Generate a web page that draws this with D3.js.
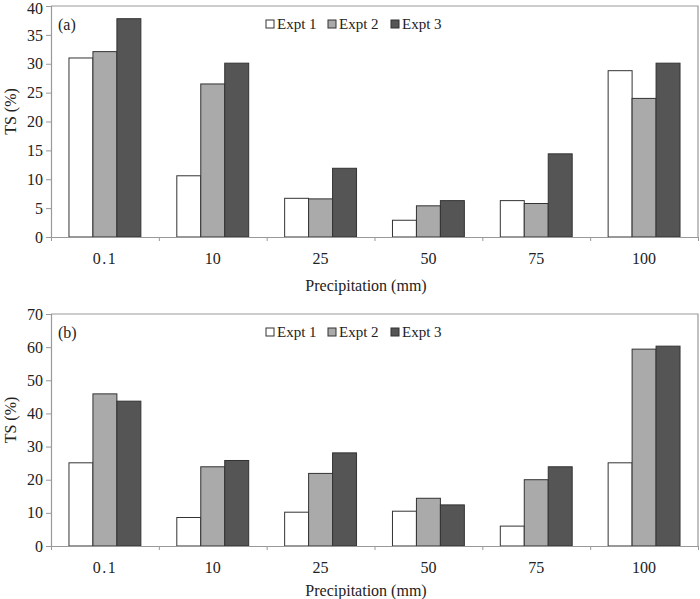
<!DOCTYPE html>
<html>
<head>
<meta charset="utf-8">
<script src="https://cdn.jsdelivr.net/npm/d3@7"></script>
<style>
  body { margin: 0; background: #fff; }
</style>
</head>
<body>
<div id="chart-container"></div>
<script>
// Data
const categories = ["0.1", "10", "25", "50", "75", "100"];
const seriesNames = ["Expt 1", "Expt 2", "Expt 3"];

// Panel (a)
const expt1A = [31.0, 10.6, 6.7, 2.9, 6.3, 28.8];
const expt2A = [32.1, 26.5, 6.6, 5.4, 5.8, 24.0];
const expt3A = [37.8, 30.1, 11.9, 6.3, 14.4, 30.1];
const yTicksA = [0, 5, 10, 15, 20, 25, 30, 35, 40];

// Panel (b)
const expt1B = [25.1, 8.6, 10.2, 10.5, 6.0, 25.1];
const expt2B = [45.9, 23.9, 21.9, 14.4, 20.0, 59.4];
const expt3B = [43.7, 25.8, 28.1, 12.4, 23.9, 60.3];
const yTicksB = [0, 10, 20, 30, 40, 50, 60, 70];

const fills = ["#ffffff", "#aaaaaa", "#555555"];
const FONT = "'Liberation Serif', 'Times New Roman', serif";

const svg = d3.select("#chart-container")
    .append("svg")
    .attr("width", 700)
    .attr("height", 599)
    .attr("font-family", FONT);

// Function to draw one panel
function drawPanel(label, seriesValues, yTicks, top, bottom, legendY, tickLabelY, titleY) {
    const left = 51, right = 698;

    const x0 = d3.scaleBand().domain(categories).range([left, right]).padding(0);
    const bw = x0.bandwidth();
    const x1 = d3.scaleBand().domain(seriesNames).range([bw / 6, bw * 5 / 6]).padding(0);
    const y = d3.scaleLinear().domain([0, d3.max(yTicks)]).range([bottom, top]);

    const g = svg.append("g");

    // plot frame (top and right)
    g.append("path")
        .attr("d", `M${left},${top}H${right}V${bottom}`)
        .attr("fill", "none")
        .attr("stroke", "#999")
        .attr("stroke-width", 1.2);

    // bars
    const rows = categories.map((c, i) => ({ cat: c, vals: seriesValues.map(s => s[i]) }));
    const groups = g.selectAll(".grp")
        .data(rows)
        .enter().append("g")
        .attr("transform", d => `translate(${x0(d.cat)},0)`);

    groups.selectAll("rect")
        .data(d => d.vals.map((v, j) => ({ name: seriesNames[j], v: v, j: j })))
        .enter().append("rect")
        .attr("x", d => x1(d.name))
        .attr("y", d => y(d.v))
        .attr("width", x1.bandwidth())
        .attr("height", d => y(0) - y(d.v))
        .attr("fill", d => fills[d.j])
        .attr("stroke", "#333")
        .attr("stroke-width", 1);

    // y axis
    const yAxis = g.append("g")
        .attr("transform", `translate(${left},0)`)
        .call(d3.axisLeft(y).tickValues(yTicks).tickSize(5).tickPadding(3).tickFormat(d3.format("d")));
    yAxis.select(".domain").attr("stroke", "#999").attr("stroke-width", 1.2);
    yAxis.selectAll(".tick line").attr("stroke", "#999");
    yAxis.selectAll(".tick text").attr("font-size", 16).attr("fill", "#222");
    // keep the top label inside the picture
    yAxis.selectAll(".tick text").filter(d => y(d) < 10).attr("dy", "0.45em");

    // x axis line with ticks at band edges
    const edges = categories.map(c => x0(c)).concat([right]);
    const xAxis = g.append("g")
        .attr("transform", `translate(0,${bottom})`)
        .call(d3.axisBottom(d3.scaleLinear().domain([left, right]).range([left, right]))
            .tickValues(edges).tickSize(4).tickSizeOuter(0).tickFormat(""));
    xAxis.select(".domain").attr("stroke", "#999").attr("stroke-width", 1.2);
    xAxis.selectAll(".tick line").attr("stroke", "#999");

    // category labels
    g.selectAll(".cat")
        .data(categories)
        .enter().append("text")
        .attr("x", d => x0(d) + bw / 2)
        .attr("y", tickLabelY)
        .attr("text-anchor", "middle")
        .attr("dominant-baseline", "central")
        .attr("font-size", 16)
        .attr("letter-spacing", d => d === "0.1" ? 1.5 : 0)
        .text(d => d);

    // x title
    g.append("text")
        .attr("x", 366)
        .attr("y", titleY)
        .attr("text-anchor", "middle")
        .attr("dominant-baseline", "central")
        .attr("font-size", 16)
        .text("Precipitation (mm)");

    // y title
    g.append("text")
        .attr("transform", `translate(10,${(top + bottom) / 2 - 10}) rotate(-90)`)
        .attr("text-anchor", "middle")
        .attr("dominant-baseline", "central")
        .attr("font-size", 16)
        .text("TS (%)");

    // panel label
    g.append("text")
        .attr("x", 58)
        .attr("y", legendY)
        .attr("dominant-baseline", "central")
        .attr("font-size", 16)
        .text(label);

    // legend
    const legendX = [266, 328, 391];
    const lg = g.selectAll(".leg")
        .data(seriesNames)
        .enter().append("g")
        .attr("transform", (d, i) => `translate(${legendX[i]},${legendY})`);
    lg.append("rect")
        .attr("x", 0).attr("y", -4)
        .attr("width", 8).attr("height", 8)
        .attr("fill", (d, i) => fills[i])
        .attr("stroke", "#333")
        .attr("stroke-width", 1);
    lg.append("text")
        .attr("x", 11)
        .attr("y", 0)
        .attr("dominant-baseline", "central")
        .attr("font-size", 15)
        .text(d => d);
}

drawPanel("(a)", [expt1A, expt2A, expt3A], yTicksA, 6, 237, 24, 258, 285);
drawPanel("(b)", [expt1B, expt2B, expt3B], yTicksB, 314, 546, 332, 567, 590);

// force the serif face on every text, including the axis tick labels
svg.selectAll("text").style("font-family", FONT).style("fill", "#222");
</script>
</body>
</html>
